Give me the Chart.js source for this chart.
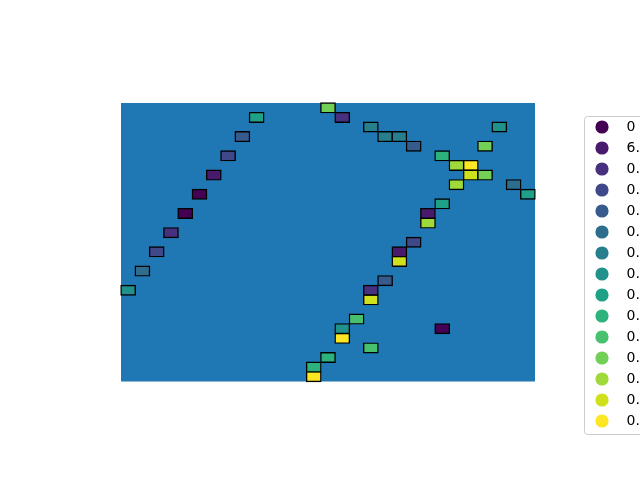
<!DOCTYPE html>
<html><head><meta charset="utf-8">
<script src="https://cdn.jsdelivr.net/npm/chart.js@4.4.1/dist/chart.umd.min.js"></script>
<style>
html,body{margin:0;padding:0;overflow:hidden;background:#fff;width:640px;height:480px}
#wrap{position:relative;width:680px;height:480px}
</style>
</head><body><div id="wrap"><canvas id="c" width="680" height="480"></canvas></div>
<script>
// grid size
const nCols = 29, nRows = 29;
// legend levels (text as visible in the picture)
const levelLabels = ["0","6.","0.","0.","0.","0.","0.","0.","0.","0.","0.","0.","0.","0.","0."];
const levelColors = ["#440154","#481a6c","#47307e","#3f4889","#375b8d","#2e6d8e","#277f8e","#21918c",
                     "#1fa188","#2db27d","#48c16e","#73d056","#9fda3a","#cfe11c","#fde725"];
// cells: column, row (row 0 at top), level index
const cellCols   = [0,1,2,3,4,5,6,7,8,9,14,15,17,18,19,20,22,23,24,24,25,23,25,26,27,28,22,21,21,20,19,19,18,17,17,16,15,15,17,14,13,13,22];
const cellRows   = [19,17,15,13,11,9,7,5,3,1,0,1,2,3,3,4,5,6,6,7,7,8,4,2,8,9,10,11,12,14,15,16,18,19,20,22,23,24,25,26,27,28,23];
const cellLevels = [7,5,3,2,0,0,1,3,4,8,11,2,6,6,6,4,9,12,14,13,11,12,11,7,5,8,8,1,12,3,1,13,4,2,13,10,7,14,10,9,9,14,0];

// target geometry (pixels)
const AX = {left:121, right:535, top:103, bottom:381.5};
const LEG = {itemX:584.5, itemY:120};

function dot(color){
  const c = document.createElement('canvas'); c.width = 16; c.height = 16;
  const g = c.getContext('2d'); g.fillStyle = color; g.beginPath(); g.arc(8,8,6.6,0,Math.PI*2); g.fill();
  return c;
}
const dots = levelColors.map(dot);

const datasets = levelLabels.map((lab, k) => ({
  label: lab,
  data: cellCols.map((c, i) => cellLevels[i] === k ? {x: c + 0.5, y: [cellRows[i], cellRows[i] + 1]} : null).filter(Boolean),
  backgroundColor: levelColors[k],
  borderColor: '#000000',
  borderWidth: 1.4,
  borderSkipped: false,
  inflateAmount: 0.7,
  grouped: false,
  barThickness: 14.276
}));

const bgPlugin = {
  id: 'bg',
  beforeDraw(chart){
    const ctx = chart.ctx, lg = chart.legend;
    if (!lg || !lg.legendHitBoxes || !lg.legendHitBoxes.length) return;
    const hb = lg.legendHitBoxes, first = hb[0], last = hb[hb.length-1];
    const x = Math.round(first.left - 1) + 0.5, y = Math.round(first.top - 4) + 0.5;
    const b = Math.round(last.top + last.height + 6) + 0.5;
    const w = 200, h = b - y, r = 3;
    ctx.save();
    ctx.beginPath();
    ctx.moveTo(x + r, y); ctx.lineTo(x + w, y); ctx.lineTo(x + w, y + h); ctx.lineTo(x + r, y + h);
    ctx.arcTo(x, y + h, x, y + h - r, r); ctx.lineTo(x, y + r); ctx.arcTo(x, y, x + r, y, r);
    ctx.closePath();
    ctx.fillStyle = 'rgba(255,255,255,0.8)'; ctx.fill();
    ctx.strokeStyle = '#cccccc'; ctx.lineWidth = 1; ctx.stroke();
    ctx.restore();
  },
  beforeDatasetsDraw(chart){
    const {x, y} = chart.scales, ctx = chart.ctx;
    const l = x.getPixelForValue(0), r = x.getPixelForValue(nCols);
    const t = y.getPixelForValue(0), b = y.getPixelForValue(nRows);
    ctx.save(); ctx.fillStyle = '#1f77b4'; ctx.fillRect(l, t, r - l, b - t); ctx.restore();
  }
};

const chart = new Chart(document.getElementById('c'), {
  type: 'bar',
  data: { datasets },
  options: {
    responsive: false, animation: false, devicePixelRatio: 1, events: [],
    layout: { padding: { left: 0, top: 68, right: 30, bottom: 0 } },
    scales: {
      x: { type: 'linear', display: false, offset: false, bounds: 'data', min: -8.476, max: 31.94 },
      y: { type: 'linear', display: false, reverse: true, bounds: 'data', beginAtZero: false, min: -3.64, max: 39.26 }
    },
    plugins: {
      tooltip: { enabled: false },
      legend: {
        position: 'right',
        labels: {
          usePointStyle: true, pointStyleWidth: 35, boxHeight: 14, padding: 7,
          color: '#000000', font: { family: 'DejaVu Sans', size: 14 },
          generateLabels(ch){
            const items = Chart.defaults.plugins.legend.labels.generateLabels(ch);
            items.forEach((it, i) => { it.pointStyle = dots[i]; it.lineWidth = 0; });
            return items;
          }
        }
      }
    }
  },
  plugins: [bgPlugin]
});

function fitGeometry(){
  const hb = chart.legend.legendHitBoxes[0];
  chart.options.layout.padding.right += hb.left - LEG.itemX;
  chart.options.layout.padding.top -= 2 * (hb.top - LEG.itemY);
  chart.update('none');
  const ca = chart.chartArea;
  const ux = (AX.right - AX.left) / nCols, uy = (AX.bottom - AX.top) / nRows;
  const xmin = -(AX.left - ca.left) / ux, ymin = -(AX.top - ca.top) / uy;
  chart.options.scales.x.min = xmin; chart.options.scales.x.max = xmin + (ca.right - ca.left) / ux;
  chart.options.scales.y.min = ymin; chart.options.scales.y.max = ymin + (ca.bottom - ca.top) / uy;
  chart.data.datasets.forEach(d => d.barThickness = ux);
  chart.update('none');
}
fitGeometry();
</script>
</body></html>
